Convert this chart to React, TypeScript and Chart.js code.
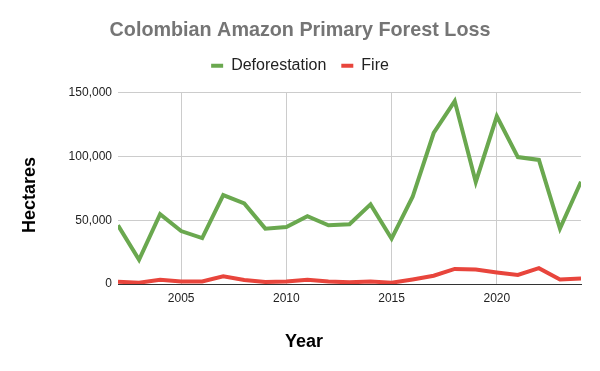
import React, { useEffect, useRef } from "react";
import { Chart, registerables } from "chart.js";

Chart.register(...registerables);

const years = [2002, 2003, 2004, 2005, 2006, 2007, 2008, 2009, 2010, 2011, 2012, 2013, 2014, 2015, 2016, 2017, 2018, 2019, 2020, 2021, 2022, 2023, 2024];
const deforestation = [46000, 19000, 54700, 41500, 36000, 69700, 63200, 43400, 44700, 53100, 46000, 46800, 62400, 35500, 68400, 118400, 143400, 80000, 131500, 99500, 97300, 43400, 80200];
const fire = [1800, 1000, 3400, 2000, 2000, 6000, 3200, 1600, 2000, 3400, 2000, 1300, 2000, 1000, 3600, 6500, 11800, 11300, 9100, 7100, 12400, 3600, 4400];
const xTicks = [2005, 2010, 2015, 2020];
const yTicks = [0, 50000, 100000, 150000];

const FONT = "'Liberation Sans', Arial, sans-serif";

const axisTitles = {
  id: "axisTitles",
  afterDraw(chart: any) {
    const ctx = chart.ctx;
    ctx.save();
    ctx.fillStyle = "#000";
    ctx.font = `bold 18px ${FONT}`;
    ctx.textAlign = "center";
    ctx.textBaseline = "middle";
    ctx.fillText("Year", 304, 342);
    ctx.translate(30, 195);
    ctx.rotate(-Math.PI / 2);
    ctx.fillText("Hectares", 0, 0);
    ctx.restore();
  },
};

export default function App() {
  const ref = useRef<HTMLCanvasElement>(null);
  useEffect(() => {
    if (!ref.current) return;
    const chart = new Chart(ref.current, {
      type: "line",
      data: {
        datasets: [
          {
            label: "Deforestation",
            data: years.map((y, i) => ({ x: y, y: deforestation[i] })),
            xAxisID: "x",
            yAxisID: "y",
            borderColor: "#6aa84f",
            backgroundColor: "#6aa84f",
            borderWidth: 4,
            pointRadius: 0,
            tension: 0,
          },
          {
            label: "Fire",
            data: years.map((y, i) => ({ x: y, y: fire[i] })),
            xAxisID: "x",
            yAxisID: "y",
            borderColor: "#e8453c",
            backgroundColor: "#e8453c",
            borderWidth: 4,
            pointRadius: 0,
            tension: 0,
          },
        ],
      },
      options: {
        responsive: false,
        animation: false,
        layout: { padding: 0 },
        plugins: {
          title: {
            display: true,
            text: "Colombian Amazon Primary Forest Loss",
            color: "#757575",
            font: { family: FONT, size: 19.75, weight: "bold" },
            padding: { top: 19, bottom: 0 },
          },
          legend: {
            display: true,
            labels: {
              color: "#222",
              font: { family: FONT, size: 16 },
              boxWidth: 12,
              boxHeight: 4,
              padding: 15,
              generateLabels(chart: any) {
                const items = Chart.defaults.plugins.legend.labels.generateLabels(chart);
                return items.map((it: any) => ({ ...it, lineWidth: 0 }));
              },
            },
          },
          tooltip: { enabled: false },
        },
        scales: {
          x: {
            type: "linear",
            min: years[0],
            max: years[years.length - 1],
            afterBuildTicks(scale: any) {
              scale.ticks = xTicks.map((v) => ({ value: v }));
            },
            afterFit(scale: any) {
              scale.height = 87;
            },
            ticks: {
              color: "#222",
              font: { family: FONT, size: 12 },
              padding: 7,
              maxRotation: 0,
              callback: (v: any) => String(v),
            },
            grid: { color: "#cccccc", drawTicks: false },
            border: { display: true, color: "#333333", width: 1 },
          },
          y: {
            min: 0,
            max: 150000,
            afterBuildTicks(scale: any) {
              scale.ticks = yTicks.map((v) => ({ value: v }));
            },
            afterFit(scale: any) {
              scale.width = 118;
            },
            ticks: {
              color: "#222",
              font: { family: FONT, size: 12 },
              padding: 6,
              callback: (v: any) => Number(v).toLocaleString("en-US"),
            },
            grid: { color: "#cccccc", drawTicks: false },
            border: { display: false },
          },
          spacerTop: {
            type: "linear",
            position: "top",
            display: true,
            min: 0,
            max: 1,
            afterFit(scale: any) {
              scale.height = 9;
            },
            ticks: { display: false },
            grid: { display: false, drawTicks: false },
            border: { display: false },
          },
          spacerRight: {
            type: "linear",
            position: "right",
            display: true,
            min: 0,
            max: 1,
            afterFit(scale: any) {
              scale.width = 19;
            },
            ticks: { display: false },
            grid: { display: false, drawTicks: false },
            border: { display: false },
          },
        },
      },
      plugins: [axisTitles],
    } as any);
    return () => chart.destroy();
  }, []);
  return (
    <div style={{ position: "fixed", left: 0, top: 0, width: 600, height: 371, background: "#fff" }}>
      <canvas ref={ref} width={600} height={371} />
    </div>
  );
}
